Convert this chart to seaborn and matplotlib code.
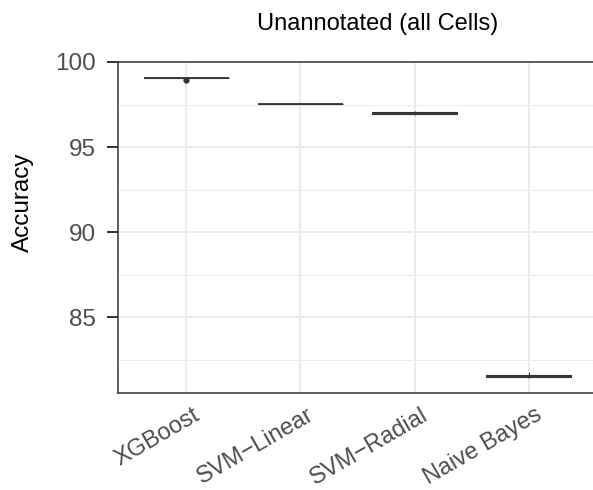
import matplotlib
matplotlib.use("Agg")
import matplotlib.pyplot as plt
import seaborn as sns
import pandas as pd
from matplotlib.ticker import MultipleLocator
from matplotlib.transforms import ScaledTranslation

sns.set_theme(style="white")
plt.rcParams['font.family'] = ['Liberation Sans', 'DejaVu Sans']

models = ["XGBoost", "SVM\u2212Linear", "SVM\u2212Radial", "Naive Bayes"]
xgboost_acc = [99.07, 99.08, 99.09, 99.08, 99.07, 99.09, 99.08, 99.10, 99.06, 98.95]
svm_linear_acc = [97.52, 97.53, 97.54, 97.53, 97.52, 97.54, 97.53, 97.55, 97.51, 97.53]
svm_radial_acc = [96.88, 96.89, 96.90, 96.95, 97.00, 97.02, 97.05, 97.10, 97.11, 97.12]
naive_bayes_acc = [81.42, 81.43, 81.44, 81.48, 81.52, 81.55, 81.58, 81.63, 81.65, 81.76]
title = "Unannotated (all Cells)"
ylabel = "Accuracy"
yticks = [85, 90, 95, 100]

df = pd.DataFrame({
    "model": [models[0]] * len(xgboost_acc) + [models[1]] * len(svm_linear_acc)
             + [models[2]] * len(svm_radial_acc) + [models[3]] * len(naive_bayes_acc),
    "acc": xgboost_acc + svm_linear_acc + svm_radial_acc + naive_bayes_acc,
})

W, H = 593, 490
fig = plt.figure(figsize=(W / 100, H / 100), dpi=100)
ax = fig.add_axes([118 / W, (H - 393) / H, (597 - 118) / W, (393 - 62) / H])

sns.boxplot(data=df, x="model", y="acc", order=models, ax=ax, width=0.75,
            color="#D96464", saturation=1, showcaps=False,
            linecolor="#333333", linewidth=0.8,
            medianprops=dict(linewidth=1.3, color="#333333"),
            flierprops=dict(marker="o", markersize=3.5, markerfacecolor="#333333",
                            markeredgecolor="#333333"))

grid_c = "#EBEBEB"
ax.set_axisbelow(True)
ax.yaxis.set_minor_locator(MultipleLocator(2.5))
ax.xaxis.grid(True, which="major", color=grid_c, linewidth=1.4)
ax.yaxis.grid(True, which="major", color=grid_c, linewidth=1.4)
ax.yaxis.grid(True, which="minor", color=grid_c, linewidth=0.7)

ax.set_xlim(-0.6, 3.6)
ax.set_ylim(80.53, 100)
ax.set_yticks(yticks)
ax.set_xlabel("")
ax.set_ylabel("")

for s in ["left", "bottom", "top"]:
    ax.spines[s].set_visible(True)
    ax.spines[s].set_color("#333333")
    ax.spines[s].set_linewidth(1.1)
ax.spines["right"].set_visible(False)

ax.tick_params(axis="y", which="major", length=8, width=1.4, color="#333333",
               labelsize=17.5, labelcolor="#4D4D4D", pad=8, left=True)
ax.tick_params(axis="y", which="minor", length=0)
ax.tick_params(axis="x", length=0, labelsize=17, labelcolor="#4D4D4D", pad=8)
offset = ScaledTranslation(6 / 100, 0, fig.dpi_scale_trans)
for lab in ax.get_xticklabels():
    lab.set_rotation(30)
    lab.set_ha("right")
    lab.set_rotation_mode("anchor")
    lab.set_transform(lab.get_transform() + offset)

fig.text(377.5 / W, 1 - 24 / H, title, ha="center", va="center", fontsize=17, color="black")
fig.text(23 / W, 1 - 202 / H, ylabel, ha="center", va="center", rotation=90,
         fontsize=17.5, color="black")

fig.savefig("out.png", dpi=100)
